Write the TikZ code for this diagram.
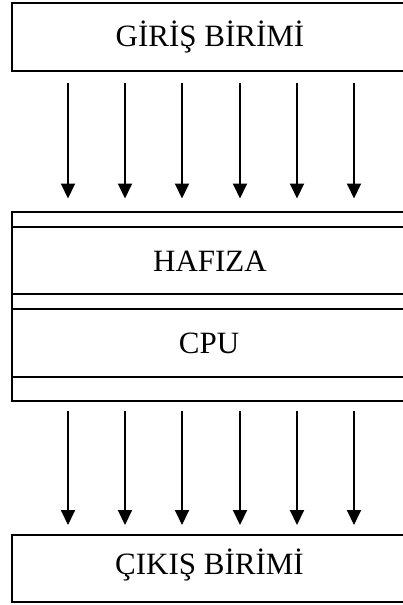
\documentclass[tikz,border=0pt]{standalone}
\usepackage{fontspec}
\setmainfont{Liberation Serif}
\usetikzlibrary{arrows.meta}
\begin{document}
\begin{tikzpicture}[x=1pt,y=-1pt,
  box/.style={draw=black,line width=2pt},
  lbl/.style={font=\fontsize{31}{34}\selectfont,inner sep=0pt},
  arr/.style={line width=2pt,-{Triangle[width=14pt,length=15pt]}}]
\useasboundingbox (0,0) rectangle (403,605);
\clip (0,0) rectangle (403,605);
% top box
\draw[box] (12,3) rectangle (406,70.5);
\node[lbl] (giris) at (210,37.5) {GİRİŞ BİRİMİ};
% middle box
\draw[box] (12,212) rectangle (406,401);
\draw[box] (12,227) -- (406,227);
\draw[box] (12,294) -- (406,294);
\draw[box] (12,309) -- (406,309);
\draw[box] (12,377) -- (406,377);
\node[lbl] (hafiza) at (210,261) {HAFIZA};
\node[lbl] (cpu) at (209,343) {CPU};
% bottom box
\draw[box] (12,535) rectangle (406,602);
\node[lbl] (cikis) at (209.5,565) {ÇIKIŞ BİRİMİ};
% arrows
\foreach \i/\x in {1/68,2/125,3/182,4/240,5/297,6/354}{
  \coordinate (ta\i) at (\x,83);
  \coordinate (tb\i) at (\x,198.5);
  \coordinate (ba\i) at (\x,411);
  \coordinate (bb\i) at (\x,525);
  \draw[arr] (ta\i) -- (tb\i);
  \draw[arr] (ba\i) -- (bb\i);
}
\end{tikzpicture}
\end{document}
